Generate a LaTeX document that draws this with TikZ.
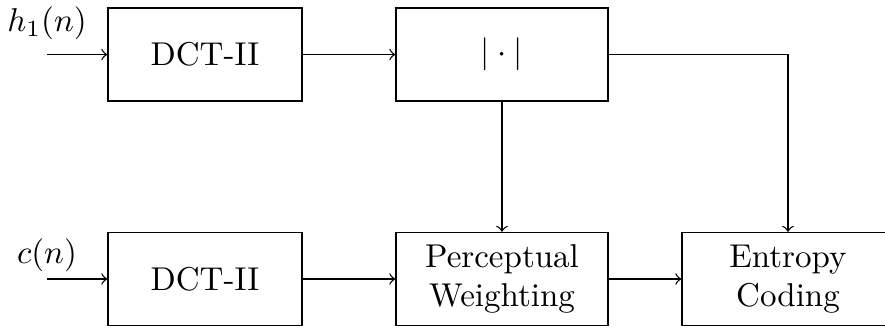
\documentclass[tikz,border=0pt]{standalone}
\usetikzlibrary{positioning}
\begin{document}
\begin{tikzpicture}[x=0.303pt,y=-0.303pt,
  blk/.style={draw, line width=0.4pt, minimum height=93*0.303pt, inner sep=0pt, align=center},
  narrow/.style={blk, minimum width=194*0.303pt},
  wide/.style={blk, minimum width=212*0.303pt},
  sig/.style={->, line width=0.4pt}]
\useasboundingbox (0,0) rectangle (885,329);

% upper branch
\node[narrow] (dct1) at (205,54.5) {DCT-II};
\node[wide]   (abs)  at (502,54.5) {$|\cdot|$};
% lower branch
\node[narrow] (dct2) at (205,279) {DCT-II};
\node[wide]   (pw)   at (502,279) {Perceptual\\Weighting};
\node[wide]   (ec)   at (788,279) {Entropy\\Coding};

% inputs
\coordinate (in1) at (47,54.5);
\coordinate (in2) at (47,279);
\node[anchor=base] (l1) at (47,32) {$h_1(n)$};
\node[anchor=base] (l2) at (47,264) {$c(n)$};

\draw[sig] (in1) -- (dct1.west);
\draw[sig] (in2) -- (dct2.west);
\draw[sig] (dct1) -- (abs);
\draw[sig] (dct2) -- (pw);
\draw[sig] (pw) -- (ec);
\draw[sig] (abs) -- (pw);
\coordinate (turn) at (ec.north |- abs.east);
\draw[sig] (abs.east) -- (turn) -- (ec.north);
\end{tikzpicture}
\end{document}
